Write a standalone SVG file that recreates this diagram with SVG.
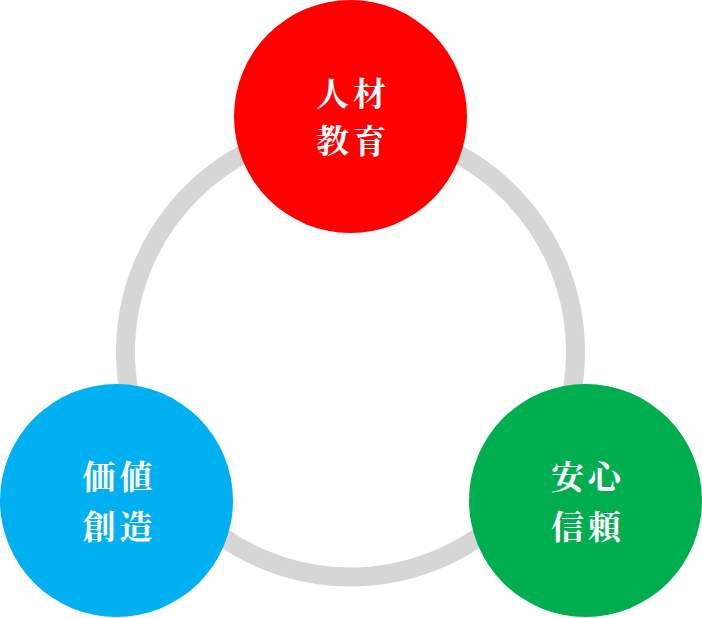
<svg xmlns="http://www.w3.org/2000/svg" width="702" height="618" viewBox="0 0 702 618">
<style>
.lbl{font-family:"Noto Serif CJK JP","Noto Sans CJK JP",sans-serif;font-weight:700;font-size:33px;fill:#ffffff;text-anchor:middle;letter-spacing:4px}
</style>
<rect width="702" height="618" fill="#ffffff"/>
<g id="connectors">
<circle cx="350.5" cy="352" r="225" fill="none" stroke="#D6D6D6" stroke-width="19"/>
</g>
<g id="node-jinzai">
<circle cx="350.5" cy="116.5" r="116.5" fill="#FF0000"/>
<text class="lbl" x="353" y="106">人材</text>
<text class="lbl" x="353" y="153">教育</text>
</g>
<g id="node-kachi">
<circle cx="116.5" cy="500.5" r="116.5" fill="#00B0F0"/>
<text class="lbl" x="119.5" y="489">価値</text>
<text class="lbl" x="119.5" y="539">創造</text>
</g>
<g id="node-anshin">
<circle cx="585.5" cy="500.5" r="116.5" fill="#00AE50"/>
<text class="lbl" x="588" y="489">安心</text>
<text class="lbl" x="588" y="539">信頼</text>
</g>
</svg>
